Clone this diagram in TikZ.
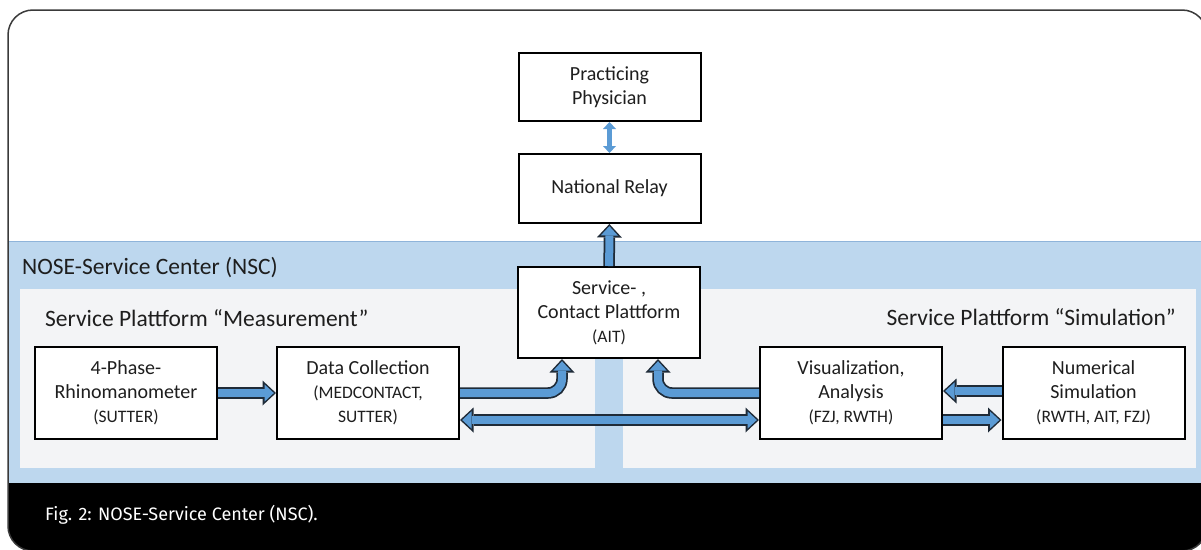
\documentclass[tikz,border=0pt]{standalone}
\usepackage{fontspec}
\setmainfont{Carlito}
\newfontfamily\capfont{Fira Sans}
\usepackage{tikz}
\usetikzlibrary{arrows.meta}

\definecolor{nscblue}{HTML}{BDD7EE}
\definecolor{nscedge}{HTML}{8FB4DA}
\definecolor{panelgray}{HTML}{F3F4F6}
\definecolor{pipeblue}{HTML}{5B9BD5}
\definecolor{pipeedge}{HTML}{1F2B38}
\definecolor{boxtext}{HTML}{1E1E1E}
\definecolor{framegray}{HTML}{3A3A3A}

\newcommand\subline[1]{{\fontsize{17.5}{20}\selectfont #1}}

\begin{document}
\begin{tikzpicture}[x=1pt, y=-1pt,
        box/.style={draw=black, line width=2pt, fill=white, minimum width=182pt,
            minimum height=92pt, inner sep=0pt, align=center, text=boxtext,
            font=\fontsize{20}{24}\selectfont},
        heading/.style={anchor=west, inner sep=0pt, text=boxtext, font=\fontsize{23.5}{28}\selectfont},
        pipe/.style={draw=pipeblue, line width=8pt, shorten >=2.2pt,
            -{Triangle[length=9.3pt, width=17.2pt, line width=0pt]},
            preaction={draw=pipeedge, line width=11.5pt, shorten >=0pt,
                -{Triangle[length=13.5pt, width=25pt, line width=0pt]}}},
        twopipe/.style={draw=pipeblue, line width=8pt, shorten >=2.2pt, shorten <=2.2pt,
            {Triangle[length=9.3pt, width=17.2pt, line width=0pt]}-{Triangle[length=9.3pt, width=17.2pt, line width=0pt]},
            preaction={draw=pipeedge, line width=11.5pt, shorten >=0pt, shorten <=0pt,
                {Triangle[length=13.5pt, width=25pt, line width=0pt]}-{Triangle[length=13.5pt, width=25pt, line width=0pt]}}},
        thinpipe/.style={draw=pipeblue, line width=4.5pt,
            {Triangle[length=7pt, width=13pt, line width=0pt]}-{Triangle[length=7pt, width=13pt, line width=0pt]}}]

    \useasboundingbox (0,0) rectangle (1201,549);

    % frame, service center band and caption bar
    \fill[white, rounded corners=25pt] (8,10) rectangle (1207,551);
    \begin{scope}
        \clip[rounded corners=25pt] (8,10) rectangle (1207,551);
        \fill[nscblue] (0,241) rectangle (1210,483);
        \draw[nscedge, line width=1pt] (0,241) -- (1210,241);
        \fill[black] (0,483) rectangle (1210,560);
    \end{scope}
    \fill[panelgray] (20,289) rectangle (595,468);
    \fill[panelgray] (623,289) rectangle (1196,468);
    \draw[framegray, line width=1.5pt, rounded corners=25pt] (8,10) rectangle (1207,551);

    \node[heading] (nschead) at (22,268) {NOSE-Service Center (NSC)};
    \node[heading] (meashead) at (45,318) {Service Plattform \textquotedblleft Measurement\textquotedblright};
    \node[heading, anchor=east] (simhead) at (1176,317) {Service Plattform \textquotedblleft Simulation\textquotedblright};
    \node[anchor=base west, inner sep=0pt, text=white, font=\capfont\fontsize{18}{22}\selectfont] (caption) at (45,520) {Fig. 2: NOSE-Service Center (NSC).};

    % boxes
    \node[box, minimum height=68pt] (phys) at (609.5,87) {Practicing\\Physician};
    \node[box, minimum height=69pt] (relay) at (609.5,188.5) {National Relay};
    \node[box, minimum height=91pt] (contact) at (609,312.5) {Service- ,\\Contact Plattform\\\subline{(AIT)}};
    \node[box] (rhino) at (126,393) {4-Phase-\\Rhinomanometer\\\subline{(SUTTER)}};
    \node[box] (collect) at (368,393) {Data Collection\\\subline{(MEDCONTACT,}\\\subline{SUTTER)}};
    \node[box] (visual) at (851,393) {Visualization,\\Analysis\\\subline{(FZJ, RWTH)}};
    \node[box] (numsim) at (1093.5,393) {Numerical\\Simulation\\\subline{(RWTH, AIT, FZJ)}};

    % connectors
    \draw[thinpipe] (phys) -- (relay);
    \draw[pipe] (contact) -- (relay);
    \draw[pipe] (rhino) -- (collect);
    \draw[pipe, rounded corners=14pt] (collect.east) -| ([xshift=-47pt]contact.south);
    \draw[pipe, rounded corners=14pt] (visual.west) -| ([xshift=49pt]contact.south);
    \draw[twopipe] ([yshift=-27pt]collect.east) -- ([yshift=-27pt]visual.west);
    \draw[pipe] ([yshift=2pt]numsim.west) -- ([yshift=2pt]visual.east);
    \draw[pipe] ([yshift=-27pt]visual.east) -- ([yshift=-27pt]numsim.west);
\end{tikzpicture}
\end{document}
